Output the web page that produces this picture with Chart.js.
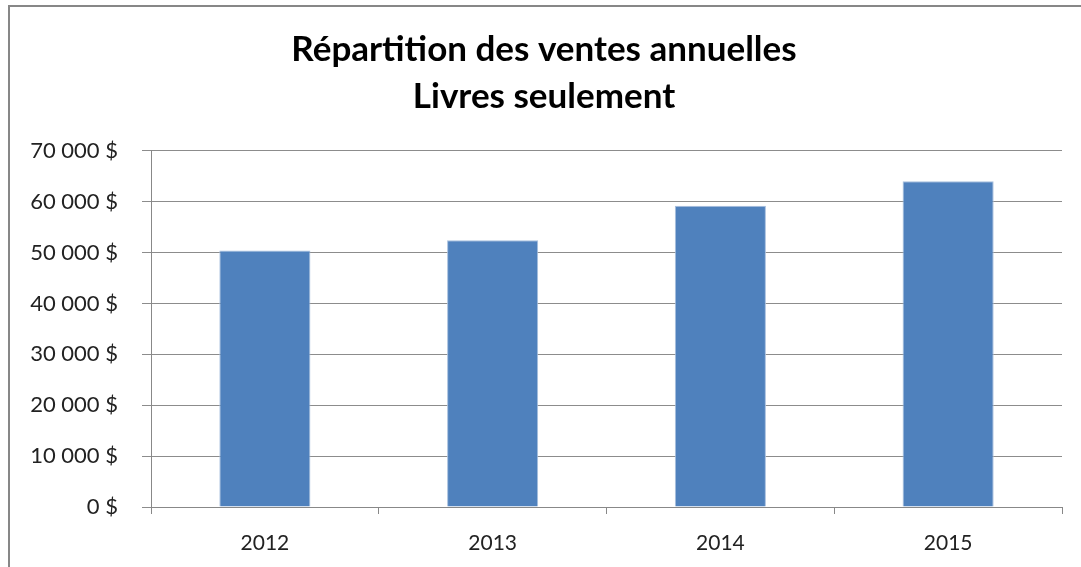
<!DOCTYPE html>
<html>
<head>
<meta charset="utf-8">
<script src="https://cdn.jsdelivr.net/npm/chart.js@4"></script>
<style>
  html, body { margin: 0; padding: 0; background: #fff; }
  #wrap { width: 1081px; height: 567px; }
</style>
</head>
<body>
<div id="wrap"><canvas id="grafico" width="1081" height="567"></canvas></div>
<script>
// Données du graphique
const annees = ['2012', '2013', '2014', '2015'];
const ventesLivres = [50400, 52400, 59200, 64000];
const titre = ['Répartition des ventes annuelles', 'Livres seulement'];
const yMax = 70000;
const yPas = 10000;

// Cadre gris autour du graphique
const cadre = {
    id: 'cadre',
    beforeDraw(chart) {
        const c = chart.ctx;
        c.save();
        c.fillStyle = '#fff';
        c.fillRect(0, 0, chart.width, chart.height);
        c.strokeStyle = '#878787';
        c.lineWidth = 2;
        c.strokeRect(9, 6, chart.width + 20, chart.height + 20);
        c.restore();
    }
};

const fmt = v => v === 0 ? '0 $' : (v / 1000) + ' 000 $';

const ctx = document.getElementById('grafico').getContext('2d');
new Chart(ctx, {
    type: 'bar',
    data: {
        labels: annees,
        datasets: [{
            label: 'Livres',
            data: ventesLivres,
            backgroundColor: '#4F81BD',
            borderColor: '#A7BFDE',
            borderWidth: 1,
            barPercentage: 0.4,
            categoryPercentage: 1
        }]
    },
    options: {
        responsive: false,
        animation: false,
        layout: { padding: { left: 26, right: 19, top: 0, bottom: 0 } },
        plugins: {
            legend: { display: false },
            tooltip: { enabled: false },
            title: {
                display: true,
                text: titre,
                color: '#000',
                font: { family: 'Lato', size: 35, weight: 'bold', lineHeight: 1.34 },
                padding: { top: 26, bottom: 31 }
            }
        },
        scales: {
            x: {
                grid: { drawOnChartArea: false, drawTicks: true, tickLength: 7, color: '#888', offset: true },
                border: { color: '#888' },
                ticks: { color: '#222', font: { family: 'Lato', size: 21 }, padding: 17 },
                afterFit: s => { s.height = 60; }
            },
            y: {
                min: 0,
                max: yMax,
                grid: { color: '#8c8c8c', tickLength: 9 },
                border: { color: '#888' },
                ticks: {
                    stepSize: yPas,
                    color: '#222',
                    font: { family: 'Lato', size: 22 },
                    padding: 24,
                    callback: v => fmt(v)
                },
                afterFit: s => { s.width = 125; }
            }
        }
    },
    plugins: [cadre]
});
</script>
</body>
</html>
